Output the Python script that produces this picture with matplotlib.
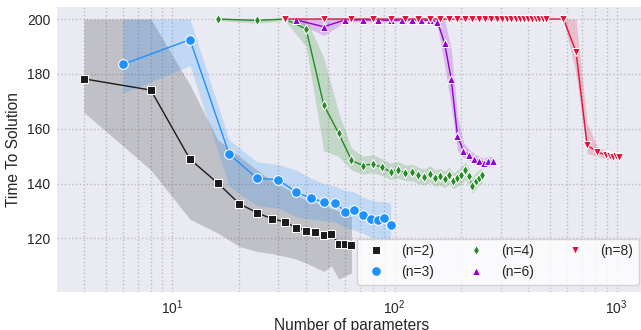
import numpy as np
import matplotlib
matplotlib.use("Agg")
import matplotlib.pyplot as plt
from matplotlib.lines import Line2D

plt.rcParams['font.family'] = ['Liberation Sans', 'DejaVu Sans']

# ---------------- data ----------------
labels = ["(n=2)", "(n=3)", "(n=4)", "(n=6)", "(n=8)"]
colors = ["#1b1b1b", "#1e90ff", "#228b22", "#9400d3", "#dc143c"]
markers = ["s", "o", "d", "^", "v"]
msizes = [5.6, 7.0, 5.4, 5.8, 5.8]

# n=2
x_n2 = [4, 8, 12, 16, 20, 24, 28, 32, 36, 40, 44, 48, 52, 56, 60, 64]
y_n2 = [178.2, 174.1, 148.9, 140.2, 132.7, 129.4, 127.2, 126.1, 124.0, 122.9,
        122.5, 121.3, 121.6, 118.1, 118.0, 117.7]
lo_n2 = [166.0, 145.0, 127.0, 122.0, 117.1, 115.3, 114.5, 113.5, 112.5, 111.0,
         109.5, 108.0, 110.0, 105.2, 106.4, 107.4]
hi_n2 = [200.0, 200.0, 176.0, 156.0, 150.0, 145.0, 141.0, 138.5, 136.0, 134.0,
         133.0, 132.0, 131.0, 130.0, 129.0, 128.0]

# n=3
x_n3 = [6, 12, 18, 24, 30, 36, 42, 48, 54, 60, 66, 72, 78, 84, 90, 96]
y_n3 = [183.5, 192.5, 150.8, 142.0, 141.4, 136.9, 134.7, 133.2, 133.1, 129.7,
        130.3, 128.7, 127.1, 126.7, 127.3, 125.0]
lo_n3 = [173.0, 183.0, 139.0, 132.0, 131.0, 128.0, 127.0, 126.5, 126.0, 124.0,
         123.0, 122.0, 120.5, 120.0, 120.0, 119.5]
hi_n3 = [200.0, 200.0, 156.0, 148.0, 147.0, 145.0, 142.0, 140.0, 139.0, 137.5,
         137.0, 135.0, 134.0, 133.5, 133.5, 133.0]

# n=4
x_n4 = [16, 24, 32, 40, 48, 56, 64, 72, 80, 88, 96, 104, 112, 120, 128, 136,
        144, 152, 160, 168, 176, 184, 192, 200, 208, 216, 224, 232, 240, 248]
y_n4 = [200.0, 199.5, 200.0, 196.4, 168.7, 158.4, 148.5, 146.6, 147.2, 145.9,
        144.3, 145.1, 143.8, 144.2, 143.1, 142.4, 143.6, 142.0, 142.6, 141.6,
        143.1, 140.8, 142.0, 143.1, 144.8, 142.6, 139.3, 141.0, 142.2, 143.1]
lo_n4 = [199.5, 198.5, 199.5, 190.0, 152.0, 150.0, 145.0, 143.5, 144.0, 143.0,
         141.5, 142.0, 141.0, 141.0, 140.0, 139.5, 140.5, 139.0, 139.5, 138.5,
         140.0, 138.0, 139.0, 140.0, 141.5, 139.5, 136.5, 138.0, 139.5, 140.5]
hi_n4 = [200.0, 200.0, 200.0, 200.0, 186.0, 166.0, 153.0, 150.0, 150.5, 149.0,
         147.5, 148.0, 146.8, 147.0, 146.0, 145.3, 146.6, 145.0, 145.6, 144.6,
         146.0, 143.8, 145.0, 146.2, 147.8, 145.6, 142.3, 144.0, 145.0, 145.8]

# n=6
x_n6 = [36, 48, 60, 72, 84, 96, 108, 120, 132, 144, 156, 168, 180, 192, 204,
        216, 228, 240, 252, 264, 276]
y_n6 = [199.7, 197.2, 199.7, 199.7, 199.7, 199.5, 199.7, 199.7, 199.7, 199.5,
        199.0, 191.2, 178.0, 157.4, 152.0, 150.5, 149.0, 148.4, 147.7, 148.4, 148.2]
lo_n6 = [199.0, 194.0, 199.0, 199.0, 199.0, 198.8, 199.0, 199.0, 199.0, 198.8,
         197.5, 183.0, 168.0, 152.0, 149.5, 148.5, 147.5, 147.0, 146.3, 147.0, 146.8]
hi_n6 = [200.0, 200.0, 200.0, 200.0, 200.0, 200.0, 200.0, 200.0, 200.0, 200.0,
         200.0, 200.0, 189.0, 165.0, 155.0, 152.5, 151.0, 150.0, 149.2, 150.0, 149.8]

# n=8
x_n8 = [32, 48, 64, 80, 96, 112, 128, 144, 160, 176, 192, 208, 224, 240, 256,
        272, 288, 304, 320, 336, 352, 368, 384, 400, 416, 432, 448, 464, 480,
        576, 656, 736, 816, 896, 928, 960, 992, 1024]
y_n8 = [200.0] * 29 + [200.0, 188.1, 153.9, 151.7, 150.3, 150.0, 149.6, 149.9, 149.6]
lo_n8 = [200.0] * 29 + [200.0, 180.0, 151.0, 150.0, 149.0, 148.8, 148.4, 148.7, 148.4]
hi_n8 = [200.0] * 29 + [200.0, 200.0, 162.0, 153.5, 152.0, 151.3, 150.9, 151.2, 150.9]

series = [
    (x_n2, y_n2, lo_n2, hi_n2),
    (x_n3, y_n3, lo_n3, hi_n3),
    (x_n4, y_n4, lo_n4, hi_n4),
    (x_n6, y_n6, lo_n6, hi_n6),
    (x_n8, y_n8, lo_n8, hi_n8),
]

yticks = [120, 140, 160, 180, 200]

# ---------------- figure ----------------
W, H = 641, 330
fig = plt.figure(figsize=(W / 100, H / 100), dpi=100)
ax_l, ax_r, ax_t, ax_b = 57.3, 645.6, 6.7, 291.7
ax = fig.add_axes([ax_l / W, (H - ax_b) / H, (ax_r - ax_l) / W, (ax_b - ax_t) / H])
ax.set_facecolor("#eaeaf2")
for s in ax.spines.values():
    s.set_visible(False)

for (x, y, lo, hi), c, m, ms, lab in zip(series, colors, markers, msizes, labels):
    ax.fill_between(x, lo, hi, color=c, alpha=0.2, linewidth=0, zorder=1)
    ax.plot(x, y, color=c, marker=m, markersize=ms, markeredgecolor="white",
            markeredgewidth=0.75, linewidth=1.0, zorder=3, label=lab)

ax.set_xscale("log")
ax.set_xlim(10 ** 0.482, 10 ** 3.130)
ax.set_ylim(100.6, 204.5)
ax.set_yticks(yticks)

ax.grid(which="both", axis="x", color="#bcbcc0", linestyle=":", linewidth=1.0, zorder=0)
ax.grid(which="major", axis="y", color="#bcbcc0", linestyle=":", linewidth=1.0, zorder=0)
ax.set_axisbelow(True)
ax.tick_params(which="both", length=0, labelsize=10, colors="#262626", pad=5)

ax.set_xlabel("Number of parameters", fontsize=11.2, color="#262626", labelpad=0.5)
ax.set_ylabel("Time To Solution", fontsize=11.2, color="#262626", labelpad=4)

handles = [Line2D([], [], color=c, marker=m, linestyle="none", markersize=ms,
                  markeredgecolor="white", markeredgewidth=0.75)
           for c, m, ms in zip(colors, markers, msizes)]
leg = ax.legend(handles, labels, ncol=3, loc="lower right", fontsize=10,
                frameon=True, facecolor="white", edgecolor="#cccccc", framealpha=0.8)
for t in leg.get_texts():
    t.set_color("#262626")

fig.savefig("out.png", dpi=100)
